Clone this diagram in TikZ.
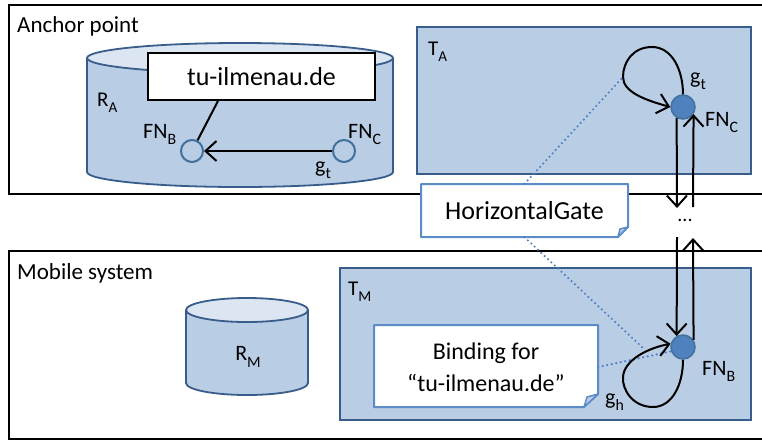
\documentclass[tikz,border=0pt]{standalone}
\usepackage{fontspec}
\setmainfont{Carlito}
\usetikzlibrary{arrows.meta}

\definecolor{tfill}{HTML}{B9CDE5}
\definecolor{tline}{HTML}{385D8A}
\definecolor{ctop}{HTML}{DCE6F2}
\definecolor{nodefill}{HTML}{4F81BD}
\definecolor{nodeline}{HTML}{41719C}
\definecolor{calline}{HTML}{5B8CC8}
\definecolor{dotc}{HTML}{4A7EC0}

% lowered, smaller index letter
\newcommand\lo[1]{\raisebox{-0.3em}{\scalebox{0.72}{#1}}}
\newcommand\fs[1]{\fontsize{#1}{#1}\selectfont}

\begin{document}
\begin{tikzpicture}[x=1pt,y=-1pt,
  outerbox/.style={draw=black,line width=1.5pt},
  tbox/.style={draw=tline,fill=tfill,line width=1.6pt},
  cylline/.style={draw=tline,line width=1.8pt},
  conn/.style={draw=black,line width=2pt},
  arr/.style={conn,-{Straight Barb[length=11pt,width=20pt]}},
  hollow/.style={circle,draw=nodeline,fill=tfill,line width=2pt,minimum size=22pt,inner sep=0pt},
  fnode/.style={circle,draw=nodeline,fill=nodefill,line width=1.5pt,minimum size=24pt,inner sep=0pt},
  lbl/.style={inner sep=0pt,anchor=base west,font=\fs{22}},
  dotline/.style={draw=dotc,line width=2.4pt,dash pattern=on 0pt off 4.6pt,line cap=round},
  calloutshape/.style={draw=calline,fill=white,line width=2pt,line join=round},
  fold/.style={draw=calline,fill=tfill,line width=1.5pt,line join=round},
]
\path[use as bounding box] (0,0) rectangle (762,440);
\clip (0,0) rectangle (762,440);

% the two systems
\draw[outerbox] (9,5) rectangle (790,194);
\draw[outerbox] (9,251) rectangle (790,439);
\node[lbl,font=\fs{23}] (anchorlbl) at (17,32) {Anchor point};
\node[lbl,font=\fs{23}] (mobilelbl) at (17,279) {Mobile system};

% repository R_A
\filldraw[cylline,fill=tfill] (240,172) ellipse [x radius=153pt, y radius=15pt];
\fill[tfill] (87,58) rectangle (393,172);
\draw[cylline] (87,58) -- (87,172);
\draw[cylline] (393,58) -- (393,172);
\filldraw[cylline,fill=ctop] (240,58) ellipse [x radius=153pt, y radius=15pt];
\node[lbl,font=\fs{21}] (ralbl) at (97,106) {R\lo{A}};

\node[draw=black,fill=white,line width=2pt,minimum width=227pt,minimum height=47pt,
      inner sep=0pt,font=\fs{26}] (url) at (261.5,76.5) {tu-ilmenau.de};
\node[hollow] (fnb) at (192,151) {};
\node[hollow] (fnc) at (344,151) {};
\draw[conn] ([xshift=-43.5pt]url.south) -- (fnb);
\draw[arr] (fnc) -- (fnb);
\node[lbl] (fnblbl) at (143,138) {FN\lo{B}};
\node[lbl] (fnclbl) at (348,138) {FN\lo{C}};
\node[lbl] (gtlbl) at (315,172) {g\lo{t}};

% transport layers
\node[tbox,minimum width=334pt,minimum height=147pt,inner sep=0pt] (ta) at (584,100.5) {};
\node[lbl,font=\fs{21}] (talbl) at (428,55) {T\lo{A}};
\node[tbox,minimum width=411pt,minimum height=152pt,inner sep=0pt] (tm) at (545.5,344) {};
\node[lbl,font=\fs{21}] (tmlbl) at (348,295) {T\lo{M}};

% repository R_M
\filldraw[cylline,fill=tfill] (247,383) ellipse [x radius=61pt, y radius=12pt];
\fill[tfill] (186,310) rectangle (308,383);
\draw[cylline] (186,310) -- (186,383);
\draw[cylline] (308,310) -- (308,383);
\filldraw[cylline,fill=ctop] (247,310) ellipse [x radius=61pt, y radius=12pt];
\node[inner sep=0pt,font=\fs{22}] (rmlbl) at (248,357) {R\lo{M}};

% notes
\path[calloutshape] (421,184) -- (628,184) -- (628,227) -- (618,237) -- (421,237) -- cycle;
\path[fold] (618,237) -- (620,229) -- (628,227) -- cycle;
\node[minimum width=207pt,minimum height=53pt,inner sep=0pt,font=\fs{26}] (hg) at (524.5,210.5) {HorizontalGate};

\path[calloutshape] (374,325) -- (598,325) -- (598,394) -- (584,407) -- (374,407) -- cycle;
\path[fold] (584,407) -- (587,397) -- (598,394) -- cycle;
\node[minimum width=224pt,minimum height=82pt,inner sep=0pt,align=center,
      font=\fontsize{24}{32}\selectfont] (bind) at (486,367) {Binding for\\“tu-ilmenau.de”};

% forwarding nodes
\node[fnode] (fncT) at (683,107) {};
\node[fnode] (fnbM) at (683,347) {};

% dotted associations
\coordinate (loopleft) at (623,77);
\coordinate (gatefoot) at (643,348);
\draw[dotline] (hg.north) -- (loopleft);
\draw[dotline] (hg.south) -- (gatefoot);
\draw[dotline] (bind.east) -- (fnbM.200);

% gates between the systems
\coordinate (upend) at (677,208);
\coordinate (uptop) at (693,207);
\coordinate (lowtop) at (677,237);
\coordinate (lowup) at (693,238);
\draw[arr] (fncT.-120) -- (upend);
\draw[arr] (uptop) -- (fncT.-34);
\draw[arr] (lowtop) -- (fnbM.120);
\draw[arr] (fnbM.34) -- (lowup);
\node[inner sep=0pt,font=\fs{20}] (dots) at (685,220) {...};

% loops
\draw[arr] (fncT.north) .. controls (683,70) and (672,47) .. (652,47)
  .. controls (633,47) and (623,62) .. (623,77)
  .. controls (623,92) and (645,100) .. (fncT.west);
\draw[arr] (fnbM.south) .. controls (683,385) and (672,407) .. (653,407)
  .. controls (633,407) and (622,390) .. (623,377)
  .. controls (624,360) and (648,348) .. (fnbM.165);

\node[lbl] (gtTlbl) at (690,83) {g\lo{t}};
\node[lbl] (fncTlbl) at (705,126) {FN\lo{C}};
\node[lbl] (fnbMlbl) at (702,375) {FN\lo{B}};
\node[lbl] (ghlbl) at (605,404) {g\lo{h}};
\end{tikzpicture}
\end{document}
